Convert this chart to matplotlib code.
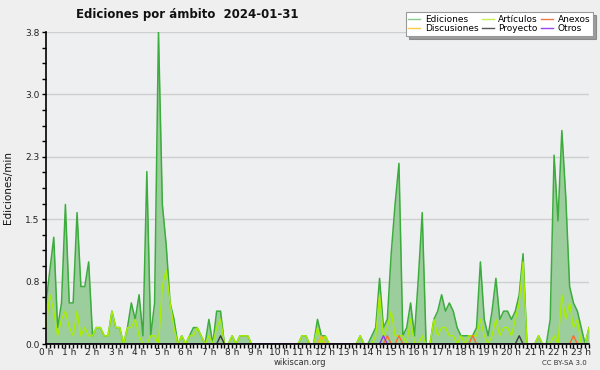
# -*- coding: utf-8 -*-

###Bibliothèques

import matplotlib
matplotlib.use('Agg')
import matplotlib.pyplot as plt
from matplotlib.ticker import FixedLocator, MultipleLocator
from matplotlib.lines import Line2D
import numpy as np


###Données (éditions/min, pas de 10 min)

ediciones = [0.5, 0.9, 1.3, 0.2, 0.5, 1.7, 0.5, 0.5, 1.6, 0.7,
             0.7, 1.0, 0.1, 0.2, 0.2, 0.1, 0.1, 0.4, 0.2, 0.2,
             0.0, 0.2, 0.5, 0.3, 0.6, 0.1, 2.1, 0.1, 0.5, 3.8,
             1.7, 1.2, 0.5, 0.3, 0.0, 0.1, 0.0, 0.1, 0.2, 0.2,
             0.1, 0.0, 0.3, 0.0, 0.4, 0.4, 0.0, 0.0, 0.1, 0.0,
             0.1, 0.1, 0.1, 0.0, 0.0, 0.0, 0.0, 0.0, 0.0, 0.0,
             0.0, 0.0, 0.0, 0.0, 0.0, 0.0, 0.1, 0.1, 0.0, 0.0,
             0.3, 0.1, 0.1, 0.0, 0.0, 0.0, 0.0, 0.0, 0.0, 0.0,
             0.0, 0.1, 0.0, 0.0, 0.1, 0.2, 0.8, 0.2, 0.3, 1.1,
             1.7, 2.2, 0.1, 0.2, 0.5, 0.1, 0.8, 1.6, 0.0, 0.0,
             0.3, 0.4, 0.6, 0.4, 0.5, 0.4, 0.2, 0.1, 0.1, 0.1,
             0.1, 0.2, 1.0, 0.3, 0.1, 0.4, 0.8, 0.3, 0.4, 0.4,
             0.3, 0.4, 0.6, 1.1, 0.0, 0.0, 0.0, 0.1, 0.0, 0.0,
             0.3, 2.3, 1.5, 2.6, 1.8, 0.7, 0.5, 0.4, 0.2, 0.0,
             0.2]

articulos = [0.2, 0.6, 0.4, 0.1, 0.3, 0.4, 0.2, 0.1, 0.4, 0.1,
             0.2, 0.1, 0.1, 0.2, 0.2, 0.1, 0.1, 0.4, 0.2, 0.2,
             0.0, 0.2, 0.2, 0.3, 0.1, 0.0, 0.0, 0.1, 0.1, 0.0,
             0.7, 0.9, 0.5, 0.2, 0.0, 0.1, 0.0, 0.1, 0.1, 0.2,
             0.1, 0.0, 0.1, 0.0, 0.2, 0.3, 0.0, 0.0, 0.1, 0.0,
             0.1, 0.1, 0.1, 0.0, 0.0, 0.0, 0.0, 0.0, 0.0, 0.0,
             0.0, 0.0, 0.0, 0.0, 0.0, 0.0, 0.1, 0.1, 0.0, 0.0,
             0.2, 0.0, 0.1, 0.0, 0.0, 0.0, 0.0, 0.0, 0.0, 0.0,
             0.0, 0.1, 0.0, 0.0, 0.0, 0.1, 0.6, 0.1, 0.2, 0.4,
             0.1, 0.1, 0.1, 0.0, 0.3, 0.0, 0.0, 0.1, 0.0, 0.0,
             0.3, 0.1, 0.2, 0.2, 0.1, 0.1, 0.0, 0.1, 0.0, 0.1,
             0.1, 0.1, 0.3, 0.1, 0.0, 0.1, 0.3, 0.1, 0.2, 0.2,
             0.1, 0.3, 0.5, 1.0, 0.0, 0.0, 0.0, 0.1, 0.0, 0.0,
             0.0, 0.1, 0.0, 0.6, 0.3, 0.5, 0.2, 0.3, 0.0, 0.0,
             0.2]

# séries presque nulles : {indice: valeur}
anexos = {88: 0.1, 91: 0.1, 110: 0.1, 136: 0.1}
discusiones = {71: 0.1}
proyecto = {45: 0.1, 122: 0.1}
otros = {87: 0.1}

n = len(ediciones)
heures = np.arange(n) / 6.0


def serie(d):
    y = np.zeros(n)
    for k, v in d.items():
        y[k] = v
    return y


###Couleurs

fond = '#efefef'
fond_axes = '#eeeff1'
vert = '#3cac3c'
vert_fill = '#9ccd9c'
jaunevert = '#a8ee00'
orange = '#ff6a2a'
jaune = '#f5b827'
gris = '#3a3a3a'
violet = '#8a3cf0'


###Figure

fig = plt.figure(figsize=(6, 3.7), dpi=100, facecolor=fond)
ax = fig.add_axes([46/600, 26/370, 543/600, 312/370])
ax.set_facecolor(fond_axes)

ymax = 3.8
ax.fill_between(heures, ediciones, 0, color=vert_fill, lw=0, zorder=1)
ax.plot(heures, ediciones, color=vert, lw=1.1, zorder=3)
ax.plot(heures, articulos, color=jaunevert, lw=1.0, zorder=4)
ax.plot(heures, serie(discusiones), color=jaune, lw=1.0, zorder=4)
ax.plot(heures, serie(anexos), color=orange, lw=1.0, zorder=4)
ax.plot(heures, serie(proyecto), color=gris, lw=1.0, zorder=4)
ax.plot(heures, serie(otros), color=violet, lw=1.0, zorder=4)

ax.set_xlim(0, (n - 1) / 6.0)
ax.set_ylim(0, ymax)

yt = [ymax * k / 5 for k in range(6)]
ax.yaxis.set_major_locator(FixedLocator(yt))
ax.set_yticklabels(["%.1f" % v for v in yt])
ax.yaxis.set_minor_locator(FixedLocator([ymax * k / 20 for k in range(21)]))
ax.grid(axis='y', which='major', color='#cfcfcf', lw=1)
ax.set_axisbelow(True)

hrs = list(range(0, 24))
ax.set_xticks(hrs)
ax.set_xticklabels(["%d h" % h for h in hrs])
ax.xaxis.set_minor_locator(MultipleLocator(1/6))

for s in ['top', 'right']:
    ax.spines[s].set_visible(False)
for s in ['left', 'bottom']:
    ax.spines[s].set_color('black')
    ax.spines[s].set_linewidth(1.2)
    ax.spines[s].set_zorder(5)

ax.tick_params(axis='both', which='major', length=3, width=1, labelsize=6.5,
               colors='black', labelcolor='#222222')
ax.tick_params(axis='both', which='minor', length=3, width=1, colors='black')
ax.tick_params(axis='x', which='major', pad=0)
ax.tick_params(axis='y', which='major', pad=1.5)

ax.set_ylabel("Ediciones/min", fontsize=7.5, color='#111111')
ax.yaxis.set_label_coords(-33/543, 0.5)

fig.text(0.3125, 0.962, "Ediciones por ámbito  2024-01-31", fontsize=8.5,
         fontweight='bold', ha='center', va='center', color='#111111')
fig.text(0.5, 0.02, "wikiscan.org", fontsize=6, ha='center', va='center',
         color='#333333')
fig.text(0.94, 0.02, "CC BY-SA 3.0", fontsize=5, ha='center', va='center',
         color='#333333')

###Légende

noms = ['Ediciones', 'Discusiones', 'Artículos', 'Proyecto', 'Anexos', 'Otros']
couleurs = ['#88cc88', '#ffcc44', '#c8ee55', '#555555', '#ee7744', '#9944ee']
poignees = [Line2D([], [], color=c, lw=1) for c in couleurs]
leg = fig.legend(poignees, noms, ncol=3, loc='upper right',
                 bbox_to_anchor=(593/600, 1 - 12/370), fontsize=6.5,
                 frameon=True, fancybox=False, shadow=True,
                 handlelength=1.3, handletextpad=0.5, columnspacing=0.4,
                 labelspacing=0.05, borderpad=0.3, borderaxespad=0)
leg.get_frame().set_edgecolor('#999999')
leg.get_frame().set_linewidth(0.8)

fig.savefig('out.png', dpi=100, facecolor=fond, edgecolor='#aaaaaa')
